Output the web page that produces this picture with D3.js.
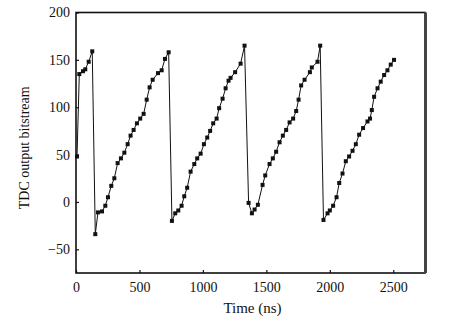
<!DOCTYPE html>
<html>
<head>
<meta charset="utf-8">
<script src="https://cdn.jsdelivr.net/npm/d3@7"></script>
<style>
  html, body { margin: 0; padding: 0; background: #fff; }
  svg { display: block; }
  text { font-family: "Liberation Serif", "Times New Roman", serif; fill: #111; }
</style>
</head>
<body>
<svg id="chart" width="463" height="325"></svg>
<script>
// Sample times (ns) of the TDC output
const timeNs = [
  8, 26, 55, 73, 100, 128,
  152, 173, 205, 231, 252, 278, 302, 328, 354, 381, 407, 430, 454, 480, 506, 533, 557, 580, 604, 646, 675, 701, 730,
  756, 782, 806, 832, 853, 876, 903, 932, 955, 982, 1008, 1034, 1057, 1081, 1108, 1128, 1155, 1179, 1202, 1218, 1254, 1297, 1328,
  1360, 1386, 1407, 1433, 1470, 1491, 1525, 1551, 1577, 1604, 1630, 1656, 1683, 1711, 1735, 1754, 1774, 1801, 1843, 1858, 1903, 1924,
  1950, 1982, 2000, 2026, 2053, 2074, 2100, 2126, 2152, 2179, 2205, 2231, 2262, 2297, 2317, 2331, 2349, 2376, 2401, 2428, 2454, 2480, 2506
];
// Output bitstream value at each sample
const bitstream = [
  48, 135, 138, 140, 148, 159,
  -34, -11, -10, -4, 5, 17, 25, 41, 46, 52, 61, 70, 76, 83, 88, 93, 108, 121, 129, 136, 139, 151, 158,
  -20, -12, -9, -4, 6, 15, 32, 40, 46, 51, 61, 68, 75, 83, 88, 99, 109, 120, 128, 131, 137, 146, 165,
  -1, -12, -8, -3, 18, 28, 40, 46, 53, 63, 70, 76, 84, 88, 96, 108, 123, 129, 137, 142, 148, 165,
  -19, -12, -9, -4, 5, 20, 30, 43, 48, 54, 61, 71, 78, 85, 88, 97, 111, 120, 127, 134, 139, 145, 150
];
const xTicks = [0, 500, 1000, 1500, 2000, 2500];
const yTicks = [-50, 0, 50, 100, 150, 200];
const xDomain = [0, 2750];
const yDomain = [-75, 200];

const svg = d3.select("#chart");
const margin = { left: 76, top: 12.5, right: 38, bottom: 52 };
const W = 463, H = 325;
const x = d3.scaleLinear().domain(xDomain).range([margin.left, W - margin.right]);
const y = d3.scaleLinear().domain(yDomain).range([H - margin.bottom, margin.top]);

const pts = timeNs.map((t, i) => [t, bitstream[i]]);

// connecting line
svg.append("path")
  .datum(pts)
  .attr("fill", "none")
  .attr("stroke", "#111")
  .attr("stroke-width", 1)
  .attr("d", d3.line().x(d => x(d[0])).y(d => y(d[1])));

// square markers
svg.append("g").selectAll("rect")
  .data(pts)
  .join("rect")
  .attr("x", d => x(d[0]) - 2)
  .attr("y", d => y(d[1]) - 2)
  .attr("width", 4)
  .attr("height", 4)
  .attr("fill", "#111");

// axes with inward ticks
const xAxis = d3.axisBottom(x).tickValues(xTicks).tickSize(-3).tickPadding(9).tickFormat(d3.format("d"));
const yAxis = d3.axisLeft(y).tickValues(yTicks).tickSize(-3).tickPadding(6).tickFormat(d => d < 0 ? "\u2212" + Math.abs(d) : d);

const gx = svg.append("g").attr("transform", `translate(0,${y(yDomain[0])})`).call(xAxis);
const gy = svg.append("g").attr("transform", `translate(${x(xDomain[0])},0)`).call(yAxis);
[gx, gy].forEach(g => {
  g.select(".domain").remove();
  g.selectAll(".tick line").attr("stroke", "#111").attr("stroke-width", 1.2);
  g.selectAll(".tick text").attr("font-size", 14).attr("fill", "#111")
    .style("font-family", '"Liberation Serif", "Times New Roman", serif');
});

// frame
const x0 = x(xDomain[0]), x1 = x(xDomain[1]), y0 = y(yDomain[1]), y1 = y(yDomain[0]);
svg.append("rect")
  .attr("x", x0).attr("y", y0)
  .attr("width", x1 - x0).attr("height", y1 - y0)
  .attr("fill", "none").attr("stroke", "#111").attr("stroke-width", 1.6);
svg.append("line")
  .attr("x1", x1 + 0.5).attr("x2", x1 + 0.5).attr("y1", y0).attr("y2", y1)
  .attr("stroke", "#444").attr("stroke-width", 3);

// axis titles
svg.append("text")
  .attr("x", (x0 + x1) / 2 + 2).attr("y", 313)
  .attr("text-anchor", "middle").attr("font-size", 15)
  .text("Time (ns)");
svg.append("text")
  .attr("transform", `translate(29,${(y0 + y1) / 2 + 5}) rotate(-90)`)
  .attr("text-anchor", "middle").attr("font-size", 14)
  .text("TDC output bitstream");
</script>
</body>
</html>
